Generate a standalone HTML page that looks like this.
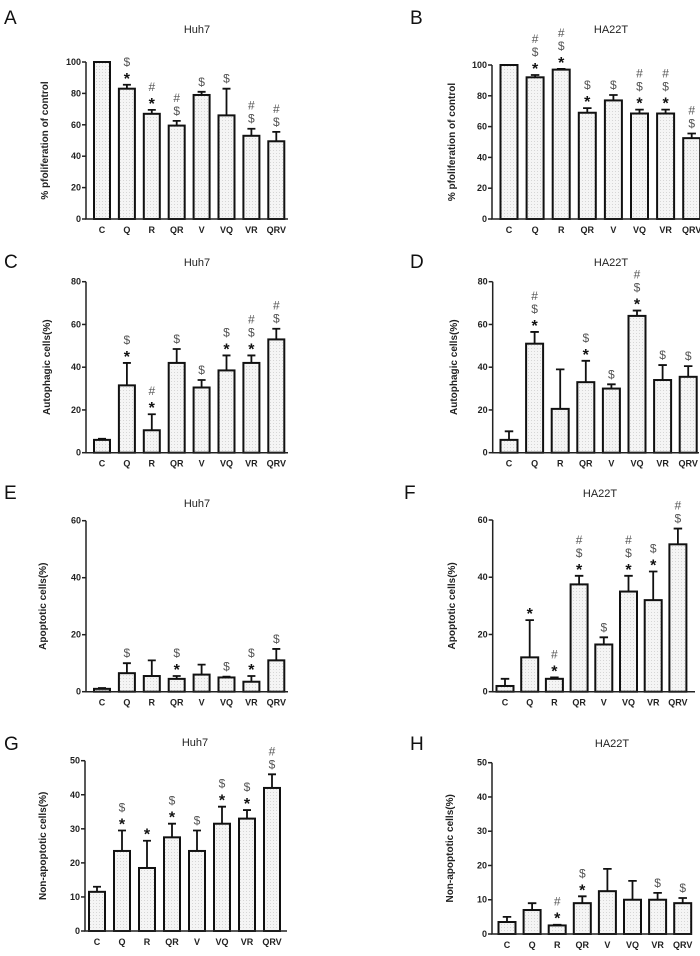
<!DOCTYPE html>
<html><head><meta charset="utf-8"><style>
body{margin:0;background:#fff;}
svg{display:block;font-family:"Liberation Sans",Arial,sans-serif;}
.tk{font-size:9px;font-weight:bold;fill:#222;}
.ttl{font-size:11px;fill:#222;}
.lab{font-size:19px;fill:#111;}
.yt{font-size:10px;font-weight:bold;fill:#222;}
.an{font-size:12px;fill:#555;}
.st{font-size:16px;fill:#111;font-weight:bold;}
</style></head><body>
<svg id="fig" width="700" height="956" viewBox="0 0 700 956" xmlns="http://www.w3.org/2000/svg">
<defs><pattern id="dots" width="3" height="3" patternUnits="userSpaceOnUse"><rect width="3" height="3" fill="#f5f5f5"/><rect width="1" height="1" fill="#d6d6d6"/></pattern></defs>
</svg>
<script>
const categories = ["C","Q","R","QR","V","VQ","VR","QRV"];
const valsA = [100,83,67,59.5,79,66,53,49.5];
const errA  = [0,2.5,2.5,3,2,17,4.5,6];
const annA  = ["","*$","*#","$#","$","$","$#","$#"];
const valsB = [100,92,97,69,77,68.5,68.5,52.5];
const errB  = [0,1.5,0.5,3,3.5,2.5,2.5,3];
const annB  = ["","*$#","*$#","*$","$","*$#","*$#","$#"];
const valsC = [6,31.5,10.5,42,30.5,38.5,42,53];
const errC  = [0.5,10.5,7.5,6.5,3.5,7,3.5,5];
const annC  = ["","*$","*#","$","$","*$","*$#","$#"];
const valsD = [6,51,20.5,33,30,64,34,35.5];
const errD  = [4,5.5,18.5,10,2,2.5,7,5];
const annD  = ["","*$#","","*$","$","*$#","$","$"];
const valsE = [1,6.5,5.5,4.5,6,5,3.5,11];
const errE  = [0.3,3.5,5.5,1,3.5,0.3,2,4];
const annE  = ["","$","","*$","","$","*$","$"];
const valsF = [2,12,4.5,37.5,16.5,35,32,51.5];
const errF  = [2.5,13,0.5,3,2.5,5.5,10,5.5];
const annF  = ["","*","*#","*$#","$","*$#","*$","$#"];
const valsG = [11.5,23.5,18.5,27.5,23.5,31.5,33,42];
const errG  = [1.5,6,8,4,6,5,2.5,4];
const annG  = ["","*$","*","*$","$","*$","*$","$#"];
const valsH = [3.5,7,2.5,9,12.5,10,10,9];
const errH  = [1.5,2,0.2,2,6.5,5.5,2,1.5];
const annH  = ["","","*#","*$","","","$","$"];

const svg = document.getElementById('fig');
const NS = "http://www.w3.org/2000/svg";
function mk(tag, attrs, parent){
  const e = document.createElementNS(NS, tag);
  for (const k in attrs) e.setAttribute(k, attrs[k]);
  (parent||svg).appendChild(e);
  return e;
}
function panel(p, vals, errs, anns){
  const g = mk('g', {});
  
  
  const y = v => p.y0 - (v / p.max) * (p.y0 - p.yTop);
  const x = i => p.c0 + i * p.sp;
  const L = mk('text', {x:p.lx, y:p.ly, class:'lab'}, g); L.textContent = p.letter;
  
  
  const T = mk('text', {x:p.tx, y:p.ty, class:'ttl', 'text-anchor':'middle'}, g); T.textContent = p.title;
  
  
  const cy = (p.y0 + p.yTop) / 2;
  const Y = mk('text', {x:p.yx, y:cy, class:'yt', 'text-anchor':'middle', transform:`rotate(-90 ${p.yx} ${cy})`}, g); Y.textContent = p.ytitle;
  
  
  vals.forEach((v, i) => {
    const top = y(v), eTop = y(v + errs[i]);
    const cx = x(i), w = p.w;
    if (errs[i] > 0) {
      const e = mk('path', {d:`M${cx} ${top} V${eTop} M${cx - w/4} ${eTop} H${cx + w/4}`, stroke:'#111', 'stroke-width':1.8, fill:'none'}, g);
      
      
    }
    const r = mk('rect', {x:cx - w/2, y:top, width:w, height:p.y0 - top, fill:'url(#dots)', stroke:'#111', 'stroke-width':2}, g);
    
    
    const chars = anns[i].split('');
    chars.forEach((c, k) => {
      const ay = Math.min(eTop, top) - 6 - k * 13;
      const a = mk('text', {x:cx, y:ay + (c === '*' ? 5 : 0), class: c === '*' ? 'st' : 'an', 'text-anchor':'middle'}, g);
      a.textContent = c;
      
      
    });
    const cl = mk('text', {x:cx, y:p.y0 + 14, class:'tk', 'text-anchor':'middle'}, g); cl.textContent = categories[i];
    
    
  });
  const ax = mk('path', {d:`M${p.ax} ${p.yTop} V${p.y0} H${p.xEnd}`, stroke:'#222', 'stroke-width':1.5, fill:'none'}, g);
  
  
  for (let v = 0; v <= p.max; v += p.step) {
    mk('line', {x1:p.ax - 4, x2:p.ax, y1:y(v), y2:y(v), stroke:'#222', 'stroke-width':1.5}, g);
    const t = mk('text', {x:p.ax - 5, y:y(v) + 3, class:'tk', 'text-anchor':'end'}, g); t.textContent = v;
    
    
  }
}
const yP = "% pfoliferation of control", yA = "Autophagic cells(%)", yAp = "Apoptotic cells(%)", yN = "Non-apoptotic cells(%)";
panel({letter:'A',lx:4,ly:24,title:'Huh7',tx:197,ty:33,ytitle:yP,yx:48,ax:86,y0:219,yTop:62,max:100,step:20,c0:102,sp:24.9,w:16,xEnd:288}, valsA, errA, annA);
panel({letter:'B',lx:410,ly:24,title:'HA22T',tx:611,ty:33,ytitle:yP,yx:455,ax:492,y0:219,yTop:65,max:100,step:20,c0:509,sp:26.1,w:17,xEnd:700}, valsB, errB, annB);
panel({letter:'C',lx:4,ly:268,title:'Huh7',tx:197,ty:266,ytitle:yA,yx:50,ax:86,y0:452.7,yTop:281.7,max:80,step:20,c0:102,sp:24.9,w:16,xEnd:288}, valsC, errC, annC);
panel({letter:'D',lx:410,ly:268,title:'HA22T',tx:611,ty:266,ytitle:yA,yx:457,ax:492.7,y0:452.7,yTop:281.7,max:80,step:20,c0:509,sp:25.6,w:17,xEnd:699}, valsD, errD, annD);
panel({letter:'E',lx:4,ly:499,title:'Huh7',tx:197,ty:507,ytitle:yAp,yx:46,ax:86,y0:691.7,yTop:520.7,max:60,step:20,c0:102,sp:24.9,w:16,xEnd:288}, valsE, errE, annE);
panel({letter:'F',lx:404,ly:499,title:'HA22T',tx:600,ty:497,ytitle:yAp,yx:455,ax:492.7,y0:691.7,yTop:520,max:60,step:20,c0:505,sp:24.7,w:17,xEnd:695}, valsF, errF, annF);
panel({letter:'G',lx:4,ly:750,title:'Huh7',tx:195,ty:746,ytitle:yN,yx:46,ax:85,y0:931,yTop:760.7,max:50,step:10,c0:97,sp:25,w:16,xEnd:287}, valsG, errG, annG);
panel({letter:'H',lx:410,ly:750,title:'HA22T',tx:612,ty:747,ytitle:yN,yx:453,ax:492,y0:934,yTop:762.7,max:50,step:10,c0:507,sp:25.1,w:17,xEnd:692}, valsH, errH, annH);
</script>
</body></html>
